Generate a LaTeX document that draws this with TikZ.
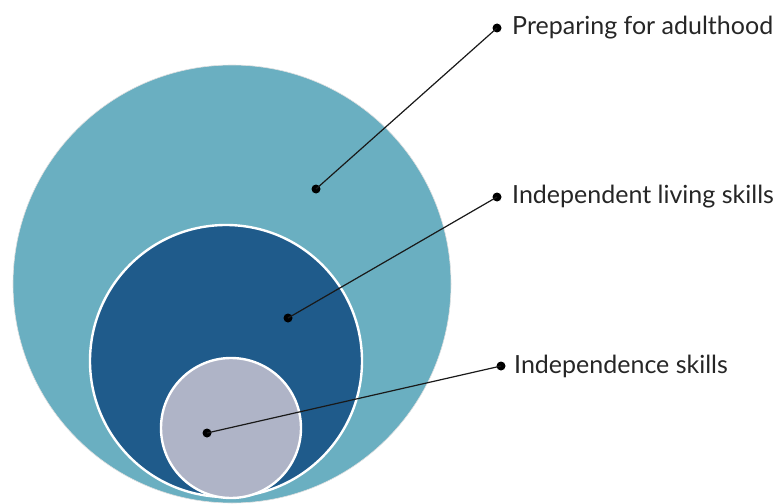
\documentclass[tikz,border=0pt]{standalone}
\usepackage{fontspec}
\setmainfont{Lato}
\usetikzlibrary{
    arrows.meta,   % For modern arrow tips
    positioning,   % For relative placement of nodes
    calc           % For coordinate calculations
}

\definecolor{outerteal}{HTML}{6AAFC1}
\definecolor{midblue}{HTML}{1F5B8B}
\definecolor{innergrey}{HTML}{AFB4C7}

\begin{document}
\begin{tikzpicture}[
    x=1pt, y=-1pt, % One unit per pixel of the reference
    font=\fontsize{25}{28}\selectfont,
    ring_style/.style={draw=white, line width=2.4pt},
    leader_style/.style={black!90, line width=1.2pt},
    dot_style/.style={circle, fill=black, inner sep=0pt, minimum size=9pt},
    label_style/.style={anchor=west, inner sep=0pt, text=black!85}
]
    % Fix the frame to the reference size
    \useasboundingbox (0,0) rectangle (781,503);

    % The three nested circles
    \fill[outerteal, draw=black!12, line width=0.6pt] (232,284) circle (219);
    \fill[midblue, ring_style] (226,361) circle (136);
    \fill[innergrey, ring_style] (231,428) circle (70);

    % Dots inside the circles
    \node[dot_style] (adult) at (316,189) {};
    \node[dot_style] (living) at (288,318) {};
    \node[dot_style] (indep) at (207,433) {};

    % Dots at the labels
    \node[dot_style] (adultEnd) at (497,28) {};
    \node[dot_style] (livingEnd) at (497,197) {};
    \node[dot_style] (indepEnd) at (501,366) {};

    % Leader lines
    \draw[leader_style] (adult.center) -- (adultEnd.center);
    \draw[leader_style] (living.center) -- (livingEnd.center);
    \draw[leader_style] (indep.center) -- (indepEnd.center);

    % Labels
    \node[label_style, right=15pt of adultEnd.center] {Preparing for adulthood};
    \node[label_style, right=15pt of livingEnd.center] {Independent living skills};
    \node[label_style, right=13pt of indepEnd.center] {Independence skills};
\end{tikzpicture}
\end{document}
